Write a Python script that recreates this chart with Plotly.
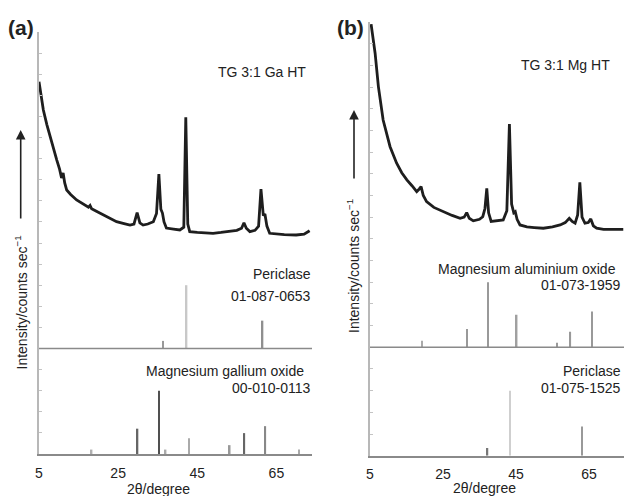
import plotly.graph_objects as go

W, H = 624, 496

# ---------------- data ----------------
# (a) TG 3:1 Ga HT  measured pattern (2theta, intensity a.u.)
ga_tt = [5.0, 5.5, 6.1, 7.0, 7.8, 8.6, 9.5, 10.2, 10.7, 11.1, 11.5, 12.0, 13.0, 14.5, 16.0, 17.5, 17.9, 18.3,
         19.5, 21.2, 23.0, 24.6, 26.5, 28.0, 29.0, 29.8, 30.5, 31.3, 32.5, 33.9, 34.7, 35.3, 35.8, 36.2, 36.6,
         37.2, 39.0, 40.6, 41.6, 42.1, 42.6, 43.1, 45.0, 47.0, 49.0, 51.0, 53.2, 55.0, 56.2, 56.8, 57.4, 58.3,
         59.6, 60.5, 61.1, 61.7, 62.1, 62.6, 63.3, 65.0, 67.0, 70.0, 72.0, 73.4]
ga_int = [7.64, 7.0, 6.30, 5.6, 5.04, 4.45, 3.93, 3.5, 3.08, 3.32, 2.85, 2.51, 2.3, 2.04, 1.85, 1.7, 1.78, 1.62,
          1.5, 1.33, 1.15, 1.01, 0.92, 0.85, 0.9, 1.44, 0.95, 0.85, 0.9, 1.01, 1.4, 3.27, 1.6, 1.42, 1.0,
          0.71, 0.66, 0.62, 0.75, 5.96, 0.9, 0.54, 0.5, 0.48, 0.46, 0.5, 0.54, 0.6, 0.7, 0.96, 0.7, 0.54,
          0.6, 0.8, 2.55, 1.3, 1.37, 0.8, 0.46, 0.42, 0.4, 0.38, 0.42, 0.58]

# (b) TG 3:1 Mg HT measured pattern
mg_tt = [5.3, 5.8, 6.4, 7.3, 8.6, 10.5, 12.3, 13.7, 15.1, 16.5, 17.8, 18.5, 19.0, 19.6, 20.5, 22.5, 25.1, 27.5,
         29.7, 30.8, 31.5, 32.2, 33.3, 35.0, 35.9, 36.5, 37.0, 37.5, 38.2, 40.0, 41.5, 42.5, 43.2, 43.8, 44.4,
         44.8, 45.3, 46.1, 48.0, 50.0, 52.5, 55.0, 57.1, 58.5, 59.6, 60.4, 61.2, 61.9, 62.5, 63.1, 63.9, 64.8,
         65.5, 66.2, 67.1, 69.0, 71.0, 73.0, 74.4]
mg_int = [9.9, 9.3, 8.56, 7.02, 5.48, 4.25, 3.49, 3.05, 2.72, 2.45, 2.18, 2.3, 2.41, 2.0, 1.72, 1.45, 1.25, 1.08,
          0.95, 1.0, 1.21, 0.95, 0.83, 0.9, 1.02, 1.4, 2.33, 1.2, 0.8, 0.85, 0.87, 1.3, 5.3, 1.6, 1.2,
          1.25, 0.9, 0.64, 0.55, 0.52, 0.49, 0.55, 0.64, 0.75, 0.95, 0.8, 0.72, 1.1, 2.61, 1.0, 0.72, 0.75,
          0.92, 0.6, 0.49, 0.44, 0.45, 0.43, 0.44]

# reference patterns (2theta, relative intensity %)
per_a_tt = [36.4, 42.3, 61.5]
per_a_int = [12, 100, 44]
gao_tt = [18.3, 29.9, 35.3, 37.0, 42.9, 53.2, 56.9, 62.2, 70.7]
gao_int = [7, 40, 100, 7, 25, 14, 33, 44, 7]
mao_tt = [19.3, 31.6, 37.3, 45.2, 56.2, 59.9, 65.8]
mao_int = [10, 28, 100, 50, 7, 24, 55]
per_b_tt = [37.2, 43.4, 63.1]
per_b_int = [12, 100, 45]

x_ticks = [5, 25, 45, 65]

# ---------------- styling ----------------
FONT = "Liberation Sans, Arial, sans-serif"
TXT = "#222222"
REF_SCALE = 3.0 / 100   # 100 % = 3 stacked units
CURVE_OFF = 10
UPPER_OFF = 5

per_a_col = ["#999999", "#c8c8c8", "#8f8f8f"]
gao_col = ["#b0b0b0", "#666666", "#505050", "#aaaaaa", "#aaaaaa", "#999999", "#666666", "#888888", "#aaaaaa"]
mao_col = ["#aaaaaa", "#999999", "#999999", "#a0a0a0", "#999999", "#999999", "#999999"]
per_b_col = ["#777777", "#cfcfcf", "#999999"]


def px(x):
    return x / W


def py(y):
    return 1 - y / H


fig = go.Figure()

# panel a
fig.add_trace(go.Scatter(x=ga_tt, y=[v + CURVE_OFF for v in ga_int], mode="lines",
                         line=dict(color="#1e1e1e", width=2.8), xaxis="x", yaxis="y", showlegend=False))
fig.add_trace(go.Bar(x=per_a_tt, y=[v * REF_SCALE for v in per_a_int], base=UPPER_OFF, width=0.4,
                     marker=dict(color=per_a_col, line=dict(width=0)), xaxis="x", yaxis="y", showlegend=False))
fig.add_trace(go.Bar(x=gao_tt, y=[v * REF_SCALE for v in gao_int], base=0, width=0.4,
                     marker=dict(color=gao_col, line=dict(width=0)), xaxis="x", yaxis="y", showlegend=False))
# panel b
fig.add_trace(go.Scatter(x=mg_tt, y=[v + CURVE_OFF for v in mg_int], mode="lines",
                         line=dict(color="#1e1e1e", width=2.8), xaxis="x2", yaxis="y2", showlegend=False))
fig.add_trace(go.Bar(x=mao_tt, y=[v * REF_SCALE for v in mao_int], base=UPPER_OFF, width=0.4,
                     marker=dict(color=mao_col, line=dict(width=0)), xaxis="x2", yaxis="y2", showlegend=False))
fig.add_trace(go.Bar(x=per_b_tt, y=[v * REF_SCALE for v in per_b_int], base=0, width=0.4,
                     marker=dict(color=per_b_col, line=dict(width=0)), xaxis="x2", yaxis="y2", showlegend=False))

xcommon = dict(showgrid=False, zeroline=False, showline=True, linecolor="#8a8a8a", linewidth=1.5,
               tickvals=x_ticks, ticktext=[str(t) for t in x_ticks], ticks="", ticklabelstandoff=5,
               tickfont=dict(family=FONT, size=14, color=TXT), automargin=False)
ycommon = dict(showgrid=False, zeroline=False, showline=True, linecolor="#b8b8b8", linewidth=1.5,
               range=[0, 20], dtick=1, tick0=0, ticks="inside", ticklen=3, tickcolor="#c4c4c4",
               tickwidth=1, showticklabels=False, automargin=False)

fig.update_layout(
    width=W, height=H, margin=dict(l=0, r=0, t=0, b=0),
    paper_bgcolor="white", plot_bgcolor="white", barmode="overlay",
    font=dict(family=FONT, color=TXT),
    xaxis=dict(xcommon, domain=[px(39), px(312)], range=[5, 74], anchor="y"),
    yaxis=dict(ycommon, domain=[py(454), py(32)], anchor="x"),
    xaxis2=dict(xcommon, domain=[px(370), 1.0], range=[5, 74.6], anchor="y2"),
    yaxis2=dict(ycommon, domain=[py(455.7), py(22)], anchor="x2"),
)

# separator baselines of the upper reference patterns
for xr, yr in (("x", "y"), ("x2", "y2")):
    fig.add_shape(type="line", xref=xr + " domain", yref=yr, x0=0, x1=1, y0=UPPER_OFF, y1=UPPER_OFF,
                  line=dict(color="#8a8a8a", width=1.5))


def ann(text, x, y, xa="right", ya="middle", size=14, **kw):
    fig.add_annotation(text=text, xref="paper", yref="paper", x=px(x), y=py(y), xanchor=xa, yanchor=ya,
                       showarrow=False, font=dict(family=FONT, size=size, color=TXT), **kw)


ann("<b>(a)</b>", 6, 27, xa="left", size=21)
ann("<b>(b)</b>", 335, 27, xa="left", size=21)
ann("TG 3:1 Ga HT", 308, 72)
ann("TG 3:1 Mg HT", 612, 65)
ann("Periclase", 313, 274)
ann("01-087-0653", 313, 296)
ann("Magnesium gallium oxide", 306, 371)
ann("00-010-0113", 313, 388)
ann("Magnesium aluminium oxide", 618, 269)
ann("01-073-1959", 623, 285)
ann("Periclase", 623, 371)
ann("01-075-1525", 623, 388)
ann("2θ/degree", 158, 489, xa="center")
ann("2θ/degree", 484, 488, xa="center")
ann("Intensity/counts sec<sup>−1</sup>", 21.5, 303, xa="center", textangle=-90)
ann("Intensity/counts sec<sup>−1</sup>", 353, 266, xa="center", textangle=-90)

for xt, ytip, length in ((20.7, 130, 90), (354, 110, 70)):
    fig.add_annotation(x=px(xt), y=py(ytip), xref="paper", yref="paper", text="", showarrow=True,
                       ax=0, ay=length, axref="pixel", ayref="pixel", arrowhead=2, arrowsize=1.2,
                       arrowwidth=1.6, arrowcolor="#222222")

fig.write_html("out.html")
